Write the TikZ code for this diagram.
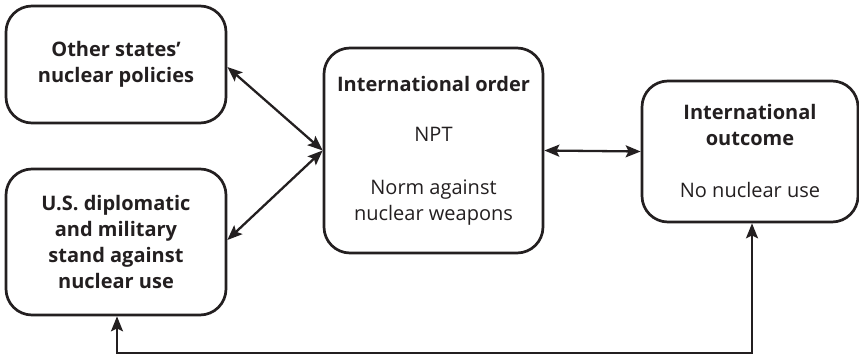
\documentclass[tikz,border=0pt]{standalone}
\usepackage{fontspec}
\setmainfont{Open Sans}
\usetikzlibrary{arrows.meta}
\definecolor{ink}{HTML}{231F20}
\begin{document}
\begin{tikzpicture}[x=1pt,y=-1pt,
  box/.style={draw=ink,line width=2.7pt,rounded corners=26pt,align=center,text=ink,
    inner sep=0pt,font=\fontsize{20}{26}\selectfont},
  conn/.style={draw=ink,line width=2.3pt,{Stealth[length=15pt,width=12pt,inset=3pt]}-{Stealth[length=15pt,width=12pt,inset=3pt]}}]
\useasboundingbox (0,0) rectangle (859,358);
\node[box,minimum width=220pt,minimum height=117pt] (other) at (116,64.5)
  {\textbf{Other states’}\\\textbf{nuclear policies}};
\node[box,minimum width=220pt,minimum height=146pt] (us) at (116,242)
  {\textbf{U.S. diplomatic}\\\textbf{and military}\\\textbf{stand against}\\\textbf{nuclear use}};
\node[box,minimum width=219pt,minimum height=205pt] (order) at (433.5,150.5)
  {\textbf{International order}\\[24pt]NPT\\[27pt]Norm against\\nuclear weapons};
\node[box,minimum width=216pt,minimum height=141pt] (outcome) at (750,151.5)
  {\textbf{International}\\\textbf{outcome}\\[26pt]No nuclear use};
\coordinate (ay) at (0,67);
\coordinate (by) at (0,240);
\coordinate (c1) at (752,353);
\coordinate (c2) at (117,353);
\draw[conn] (other.east |- ay) -- (order.west);
\draw[conn] (us.east |- by) -- (order.west);
\draw[conn] (order.east) -- (outcome.west);
\draw[conn] (outcome.south -| c1) -- (c1) -- (c2) -- (us.south -| c2);
\end{tikzpicture}
\end{document}
